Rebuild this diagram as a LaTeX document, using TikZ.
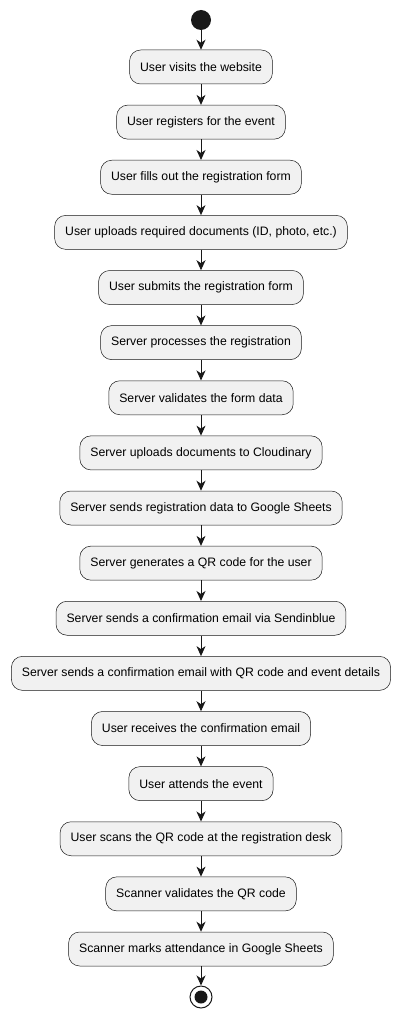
\documentclass[tikz,border=0pt]{standalone}
\usepackage{fontspec}
\setmainfont{Liberation Sans}
\usetikzlibrary{arrows.meta, positioning}
\definecolor{boxfill}{HTML}{F1F1F1}
\definecolor{flowline}{HTML}{181818}

\begin{document}
\begin{tikzpicture}[x=1pt,y=-1pt,
  activity/.style={draw=flowline, fill=boxfill, rounded corners=11pt, minimum height=34pt,
    inner xsep=10.5pt, line width=0.5pt, font=\fontsize{12.25}{14}\selectfont},
  flow/.style={draw=flowline, line width=1pt, -{Stealth[length=10pt,width=9pt,inset=3pt]}}]
\useasboundingbox (0,0) rectangle (402,1019);
% start and end
\node[circle, fill=flowline, minimum size=20pt, inner sep=0pt] (start) at (201,20) {};
\node[circle, draw=flowline, fill=white, minimum size=22pt, inner sep=0pt, line width=1pt] (stop) at (201,997) {};
\fill[flowline] (stop.center) circle (6.5);
% activities
\foreach \txt [count=\i] in {User visits the website,
    User registers for the event,
    User fills out the registration form,
    {User uploads required documents (ID, photo, etc.)},
    User submits the registration form,
    Server processes the registration,
    Server validates the form data,
    Server uploads documents to Cloudinary,
    Server sends registration data to Google Sheets,
    Server generates a QR code for the user,
    Server sends a confirmation email via Sendinblue,
    Server sends a confirmation email with QR code and event details,
    User receives the confirmation email,
    User attends the event,
    User scans the QR code at the registration desk,
    Scanner validates the QR code,
    Scanner marks attendance in Google Sheets} {
    \node[activity] (a\i) at (201,{67+55.125*(\i-1)}) {\txt};
}
% arrows
\draw[flow] (start) -- (a1);
\foreach \i [evaluate=\i as \prev using int(\i-1)] in {2,...,17}
    \draw[flow] (a\prev) -- (a\i);
\draw[flow] (a17) -- (stop);
\end{tikzpicture}
\end{document}
